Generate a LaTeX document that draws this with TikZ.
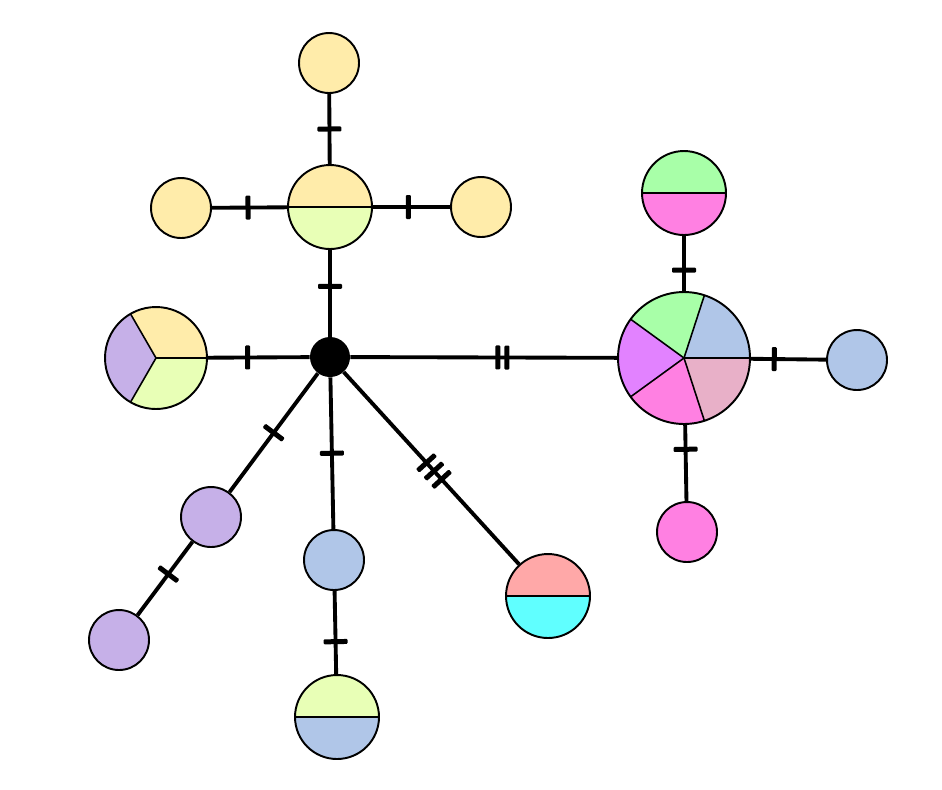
\documentclass[tikz,border=0pt]{standalone}
\usetikzlibrary{positioning}
\definecolor{hyellow}{RGB}{255,236,170}
\definecolor{hlime}{RGB}{232,255,182}
\definecolor{hlilac}{RGB}{198,176,232}
\definecolor{hblue}{RGB}{176,198,232}
\definecolor{hgreen}{RGB}{168,255,168}
\definecolor{hpink}{RGB}{255,128,226}
\definecolor{hviolet}{RGB}{226,130,255}
\definecolor{hrose}{RGB}{232,176,200}
\definecolor{hsalmon}{RGB}{255,168,168}
\definecolor{hcyan}{RGB}{96,255,255}
\tikzset{
  hap/.style={circle, draw=black, line width=1.1pt, inner sep=0pt},
  small/.style={hap, minimum size=1.2cm},
  mid/.style={hap, minimum size=1.68cm},
  hub/.style={circle, fill=black, inner sep=0pt, minimum size=0.8cm},
  half/.style 2 args={path picture={
    \fill[#2] (path picture bounding box.south west) rectangle (path picture bounding box.east);
    \fill[#1] (path picture bounding box.west) rectangle (path picture bounding box.north east);
    \draw[line width=0.9pt] (path picture bounding box.west) -- (path picture bounding box.east);}},
  pie/.style 2 args={path picture={
    \foreach \c [count=\i from 0] in {#2} {
      \pgfmathsetmacro\a{\i*#1}
      \fill[\c] (path picture bounding box.center) -- ++(\a:3cm)
        arc[start angle=\a, delta angle=#1, radius=3cm] -- cycle;}
    \foreach \c [count=\i from 0] in {#2} {
      \pgfmathsetmacro\a{\i*#1}
      \draw[line width=0.9pt] (path picture bounding box.center) -- ++(\a:3cm);}}},
  link/.style={line width=2.2pt},
  mut/.style={sloped, fill=black, inner sep=0pt, minimum width=0.1cm, minimum height=0.48cm, rounded corners=0.6pt},
}
\begin{document}
\begin{tikzpicture}[x=0.02cm, y=-0.02cm]
  \useasboundingbox (0,0) rectangle (942,789);
  % haplotypes
  \node[hub] (hub) at (330,357) {};
  \node[mid, fill=hyellow, half={hyellow}{hlime}] (yg) at (330,207) {};
  \node[small, fill=hyellow] (yA) at (329,63) {};
  \node[small, fill=hyellow] (yB) at (181,208) {};
  \node[small, fill=hyellow] (yC) at (481,207) {};
  \node[hap, minimum size=2.04cm, pie={120}{hyellow,hlilac,hlime}] (trio) at (156,358) {};
  \node[small, fill=hlilac] (pu1) at (211,517) {};
  \node[small, fill=hlilac] (pu2) at (119,640) {};
  \node[small, fill=hblue] (bl1) at (334,560) {};
  \node[mid, half={hlime}{hblue}] (gb) at (337,717) {};
  \node[mid, half={hsalmon}{hcyan}] (rc) at (548,596) {};
  \node[hap, minimum size=2.64cm, pie={72}{hblue,hgreen,hviolet,hpink,hrose}] (big) at (684,358) {};
  \node[mid, half={hgreen}{hpink}] (gp) at (684,193) {};
  \node[small, fill=hblue] (bl2) at (857,360) {};
  \node[small, fill=hpink] (pk) at (687,532) {};
  % mutational steps
  \draw[link] (yA) -- node[mut, pos=.5] {} (yg);
  \draw[link] (yg) -- node[mut, pos=.42] {} (hub);
  \draw[link] (yB) -- node[mut, pos=.48] {} (yg);
  \draw[link] (yg) -- node[mut, pos=.46] {} (yC);
  \draw[link] (trio) -- node[mut, pos=.39] {} (hub);
  \draw[link] (hub) -- node[mut, pos=.553] {} node[mut, pos=.587] {} (big);
  \draw[link] (big) -- node[mut, pos=.38] {} (gp);
  \draw[link] (big) -- node[mut, pos=.31] {} (bl2);
  \draw[link] (big) -- node[mut, pos=.32] {} (pk);
  \draw[link] (hub) -- node[mut, pos=.5] {} (pu1);
  \draw[link] (pu1) -- node[mut, pos=.44] {} (pu2);
  \draw[link] (hub) -- node[mut, pos=.5] {} (bl1);
  \draw[link] (bl1) -- node[mut, pos=.61] {} (gb);
  \draw[link] (hub) -- node[mut, pos=.472] {} node[mut, pos=.515] {} node[mut, pos=.558] {} (rc);
\end{tikzpicture}
\end{document}
